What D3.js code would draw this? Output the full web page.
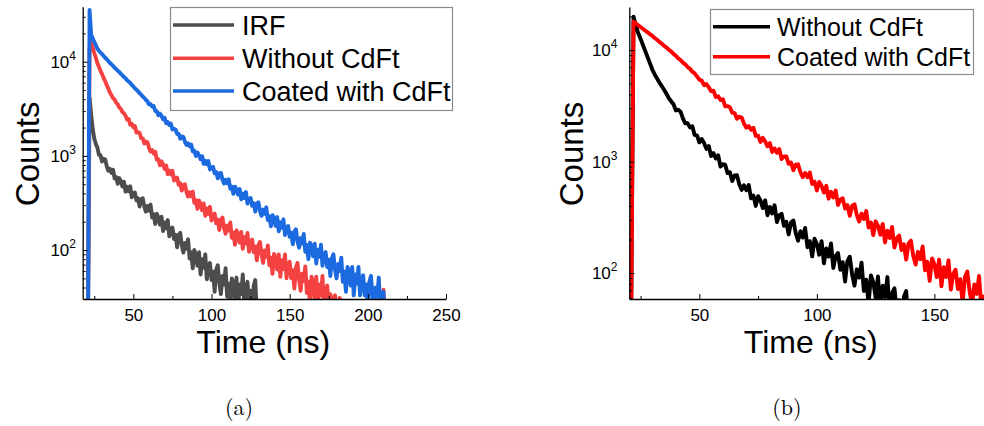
<!DOCTYPE html>
<html><head><meta charset="utf-8">
<script src="https://cdn.jsdelivr.net/npm/d3@7"></script>
<style>body{margin:0;background:#fff}svg{display:block}</style>
</head><body>
<svg id="c" width="984" height="426"></svg>
<script>
// ---------- data (counts per 1 ns bin) ----------
const irfStartA = 21;
const irfCountsA = [20,4130,2735,1936,1531,1334,1225,1025,1016,872,931,915,776,695,729,660,713,576,596,505,581,539,474,530,417,469,421,475,364,400,407,336,354,290,346,355,290,256,293,262,304,222,240,189,243,221,186,226,159,196,170,208,140,166,173,131,145,107,144,152,112,94,119,103,130,81,95,64,100,88,68,95,55,80,65,90,49,67,73,48,59,36,62,69,45,34,53,43,64,32,44,24,50,44,31,51,24,43,34,55,25,40,46,28,37,20,42,48,20];

const withoutStartA = 21;
const withoutCountsA = [20,14000,15850,14100,12380,10990,9660,8810,8000,7390,6700,6210,5610,5200,4700,4410,4100,3950,3670,3530,3270,3160,2920,2830,
2671,2428,2462,2143,2188,2020,2072,1768,1791,1749,1542,1535,1354,1424,1398,1221,1113,1152,1059,1107,915,923,793,875,815,727,790,641,700,633,693,548,586,585,494,511,428,491,499,415,370,412,372,417,318,338,274,336,308,265,312,231,276,242,288,206,235,244,192,209,163,210,221,172,149,182,161,196,135,153,114,161,146,120,156,103,137,117,152,96,121,129,95,109,78,112,122,89,73,99,85,112,69,83,56,91,81,62,90,52,78,63,90,50,68,75,50,61,39,65,73,49,37,56,47,67,35,46,26,52,45,31,52,24,43,33,53,23,37,42,25,34,17,31,33,24,17,31,24,29,16,23,10,29,24,15,27,10,24,17,28,10,21,24,12,18,8,20,25,13,7,17,13,23,8,38,12];

const coatedStartA = 21;
const coatedCountsA = [20,35500,19300,17700,16310,15030,13760,13010,12480,12050,11490,11020,10620,10180,9710,9400,9040,8650,8380,8030,7770,7430,7200,6880,6670,6370,6170,5950,5660,5480,5210,5050,4850,4630,4470,4270,4130,3930,3800,
3523,3543,3343,3382,2998,2978,2706,2813,2661,2452,2534,2222,2290,2129,2201,1900,1938,1907,1710,1709,1524,1608,1595,1412,1307,1357,1263,1321,1119,1132,996,1088,1019,920,989,824,890,815,881,717,760,761,654,673,577,651,658,561,510,558,512,565,448,471,396,471,439,387,444,346,398,357,413,312,349,357,295,314,256,311,322,261,231,269,243,284,208,228,179,235,216,181,224,158,197,172,212,144,172,180,138,153,115,156,166,124,106,134,117,148,96,113,80,120,108,86,117,72,101,85,114,68,89,95,66,79,53,82,90,62,50,71,60,83,46,59,36,66,57,42,66,33,55,44,66,33,48,54,33,43,24,46,53,33,24,40,32,51,23,33,36,15];

const withoutStartB = 20;
const withoutCountsB = [40,45,19900,16600,14130,12590,11090,9770,8610,7590,6680,6030,5560,5110,4740,4400,4050,3710,3470,3260,
2872,2916,2797,2434,2198,2210,2024,2070,1731,1717,1485,1594,1466,1298,1375,1119,1189,1063,1138,901,945,937,787,802,667,751,752,625,557,613,553,615,468,494,400,489,448,382,448,330,391,342,405,287,329,340,265,288,222,284,296,228,195,237,208,254,170,193,141,203,182,146,193,122,166,140,184,111,142,151,107,125,84,128,140,97,77,108,91,124,69,87,53,95,83,60,93,47,77,61,92,44,66,73,44,57,30,61,69,30];

const coatedStartB = 20;
const coatedCountsB = [40,42,17950,17300,16690,16050,15510,14900,14420,13850,13400,12820,12360,11830,11410,10900,10540,10050,9720,9230,8890,8420,8130,7700,7440,7030,6800,6390,6180,5800,
5422,5323,4830,4945,4639,4273,4322,3790,3847,3558,3620,3127,3140,3067,2734,2718,2414,2520,2478,2186,2012,2079,1924,2007,1696,1707,1499,1631,1518,1369,1461,1217,1310,1197,1292,1053,1111,1110,954,979,837,937,944,801,725,790,723,797,629,661,550,655,604,527,605,464,535,477,549,408,457,467,379,406,326,400,414,331,290,341,305,360,256,284,219,291,265,220,276,188,240,206,259,169,205,217,161,181,132,184,195,143,119,155,133,173,106,126,85,135,120,92,132,76,113,92,130,71,98,107,72,88,54,92,103,68,52,79,65,94,48,64];

const seriesLabelsA = ["IRF", "Without CdFt", "Coated with CdFt"];
const seriesLabelsB = ["Without CdFt", "Coated with CdFt"];
const xTickLabelsA = [50, 100, 150, 200, 250];
const xMinorTicksA = [25, 75, 125, 175, 225];
const xTickLabelsB = [50, 100, 150];
const xMinorTicksB = [25, 75, 125];
const yTickExponents = [2, 3, 4];
const xAxisTitle = "Time (ns)";
const yAxisTitle = "Counts";
const captions = ["(a)", "(b)"];

// ---------- drawing ----------
const svg = d3.select("#c");
const SANS = "'Liberation Sans', Arial, Helvetica, sans-serif";
const SERIF = "'Latin Modern Roman','Liberation Serif','DejaVu Serif',serif";

const panels = [
  {
    id: "a",
    x: d3.scaleLinear().domain([17.6, 250]).range([82.7, 446]),
    y: d3.scaleLog().domain([30.2, 38400]).range([299, 6.7]),
    series: [
      {t0: irfStartA, v: irfCountsA, color: "#4d4d4d", label: seriesLabelsA[0]},
      {t0: withoutStartA, v: withoutCountsA, color: "#f44242", label: seriesLabelsA[1]},
      {t0: coatedStartA, v: coatedCountsA, color: "#1b6ae0", label: seriesLabelsA[2]}
    ],
    xMajor: xTickLabelsA, xMinor: xMinorTicksA,
    yLabelRight: 76, ylabX: 38.5, xlabX: 263.3, xlabY: 352.5,
    legend: {x: 170, y: 7, w: 282, h: 103, rows: [25, 58.3, 91], lx1: 173, lx2: 234, tx: 242, fs: 27, dy: 10},
    caption: {x: 239, y: 415, text: captions[0]}
  },
  {
    id: "b",
    x: d3.scaleLinear().domain([20.2, 171.1]).range([629.3, 984]),
    y: d3.scaleLog().domain([58.5, 24300]).range([299, 7]),
    series: [
      {t0: withoutStartB, v: withoutCountsB, color: "#000000", label: seriesLabelsB[0]},
      {t0: coatedStartB, v: coatedCountsB, color: "#ff0000", label: seriesLabelsB[1]}
    ],
    xMajor: xTickLabelsB, xMinor: xMinorTicksB,
    yLabelRight: 617.5, ylabX: 583, xlabX: 810.8, xlabY: 352.5,
    legend: {x: 710, y: 9, w: 263, h: 65, rows: [26.7, 56.7], lx1: 713, lx2: 770, tx: 777, fs: 25, dy: 9},
    caption: {x: 787, y: 415, text: captions[1]}
  }
];

panels.forEach(p => {
  const g = svg.append("g");
  const [x0, x1] = p.x.range();
  const [yb, yt] = p.y.range();

  const cid = "clip-" + p.id;
  svg.append("defs").append("clipPath").attr("id", cid)
    .append("rect").attr("x", x0).attr("y", yt).attr("width", x1 - x0).attr("height", yb - yt);

  const plot = g.append("g").attr("clip-path", `url(#${cid})`);
  p.series.forEach(s => {
    const line = d3.line().x((d, i) => p.x(s.t0 + i)).y(d => p.y(d));
    plot.append("path").datum(s.v).attr("d", line)
      .attr("fill", "none").attr("stroke", s.color).attr("stroke-width", 3.9)
      .attr("stroke-linejoin", "round");
  });

  // x axis (ticks inward)
  const xa = g.append("g").attr("transform", `translate(0,${yb})`)
    .call(d3.axisBottom(p.x).tickValues(p.xMajor).tickSize(-5).tickSizeOuter(0).tickPadding(9.6).tickFormat(d3.format("d")));
  xa.selectAll("text").attr("font-family", SANS).attr("font-size", 17).attr("fill", "#000");
  g.append("g").attr("transform", `translate(0,${yb})`)
    .call(d3.axisBottom(p.x).tickValues(p.xMinor).tickSize(-3).tickFormat(""))
    .call(a => a.select(".domain").remove());

  // y axis (log, ticks inward)
  const [ymin, ymax] = p.y.domain();
  const minor = [];
  for (let e = 1; e <= 4; e++) for (let m = 2; m <= 9; m++) {
    const v = m * Math.pow(10, e);
    if (v >= ymin && v <= ymax) minor.push(v);
  }
  g.append("g").attr("transform", `translate(${x0},0)`)
    .call(d3.axisLeft(p.y).tickValues(yTickExponents.map(e => Math.pow(10, e))).tickSize(-5).tickSizeOuter(0).tickFormat(""));
  g.append("g").attr("transform", `translate(${x0},0)`)
    .call(d3.axisLeft(p.y).tickValues(minor).tickSize(-3).tickFormat(""))
    .call(a => a.select(".domain").remove());
  yTickExponents.forEach(e => {
    const t = g.append("text").attr("x", p.yLabelRight).attr("y", p.y(Math.pow(10, e)) + 6)
      .attr("text-anchor", "end").attr("font-family", SANS).attr("font-size", 17).attr("fill", "#000");
    t.append("tspan").text("10");
    t.append("tspan").attr("dy", -8).attr("font-size", 12).text(e);
  });
  g.selectAll(".domain").attr("stroke", "#000").attr("stroke-width", 1.3);
  g.selectAll(".tick line").attr("stroke", "#000").attr("stroke-width", 1);

  // axis titles
  g.append("text").attr("transform", `translate(${p.ylabX},${(yb + yt) / 2 + 1}) rotate(-90)`)
    .attr("text-anchor", "middle").attr("font-family", SANS).attr("font-size", 33).attr("fill", "#000").text(yAxisTitle);
  g.append("text").attr("x", p.xlabX).attr("y", p.xlabY)
    .attr("text-anchor", "middle").attr("font-family", SANS).attr("font-size", 32).attr("fill", "#000").text(xAxisTitle);

  // legend
  const L = p.legend;
  g.append("rect").attr("x", L.x + 0.5).attr("y", L.y + 0.5).attr("width", L.w).attr("height", L.h)
    .attr("fill", "#fff").attr("stroke", "#8a8a8a").attr("stroke-width", 1.2);
  p.series.forEach((s, i) => {
    g.append("line").attr("x1", L.lx1).attr("x2", L.lx2).attr("y1", L.rows[i]).attr("y2", L.rows[i])
      .attr("stroke", s.color).attr("stroke-width", 3.6);
    g.append("text").attr("x", L.tx).attr("y", L.rows[i] + L.dy)
      .attr("font-family", SANS).attr("font-size", L.fs).attr("fill", "#000").text(s.label);
  });

  // caption
  g.append("text").attr("x", p.caption.x).attr("y", p.caption.y).attr("text-anchor", "middle")
    .attr("font-family", SERIF).attr("font-size", 22).attr("fill", "#000").text(p.caption.text);
});
</script>
</body></html>
